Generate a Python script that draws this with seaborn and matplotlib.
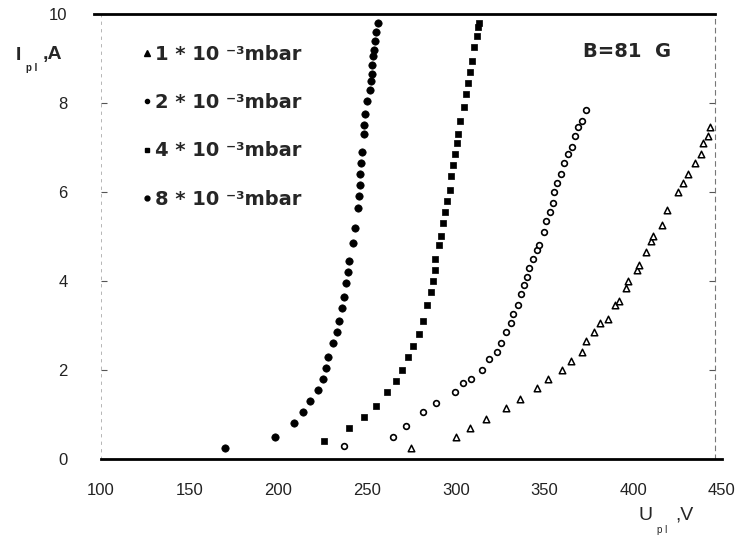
import matplotlib
matplotlib.use("Agg")
import matplotlib.pyplot as plt
from matplotlib.lines import Line2D
import seaborn as sns
import pandas as pd

# Discharge current I_pl (A) versus voltage U_pl (V) at B = 81 G, for four pressures
u_1e3 = [275, 300, 308, 317, 328, 336, 346, 352, 360, 365, 371, 373.5, 378, 381, 386,
         389.5, 392, 396, 397, 402, 403, 407, 410, 411, 416, 419, 425, 428, 431, 435,
         438, 439.5, 442, 443.5]
i_1e3 = [0.25, 0.5, 0.7, 0.9, 1.15, 1.35, 1.6, 1.8, 2.0, 2.2, 2.4, 2.65, 2.85, 3.05, 3.15,
         3.45, 3.55, 3.85, 4.0, 4.25, 4.35, 4.65, 4.9, 5.0, 5.25, 5.6, 6.0, 6.2, 6.4, 6.65,
         6.85, 7.1, 7.25, 7.45]

u_2e3 = [237, 264.5, 272, 281.5, 289, 299.5, 304, 308.5, 314.5, 318.5, 323, 325.5, 328, 331,
         332.5, 335, 336.5, 338.5, 340, 341, 343.5, 345.5, 347, 349.5, 351, 353, 354.5,
         355.5, 357, 359, 361, 363.5, 365.5, 367, 369, 371, 373.5]
i_2e3 = [0.3, 0.5, 0.75, 1.05, 1.25, 1.5, 1.7, 1.8, 2.0, 2.25, 2.4, 2.6, 2.85, 3.05,
         3.25, 3.45, 3.7, 3.9, 4.1, 4.3, 4.5, 4.7, 4.8, 5.1, 5.35, 5.55, 5.75,
         6.0, 6.2, 6.4, 6.65, 6.85, 7.0, 7.25, 7.45, 7.6, 7.85]

u_4e3 = [225.5, 240, 248, 255, 261, 266, 269.5, 273, 276, 279, 281.5, 284, 286, 287, 288,
         288.5, 290.5, 291.5, 293, 294, 295, 296.5, 297.5, 298.5, 299.5, 300.5, 301.5,
         302.5, 304.5, 306, 307, 308, 309, 310, 312, 312.5, 313]
i_4e3 = [0.4, 0.7, 0.95, 1.2, 1.5, 1.75, 2.0, 2.3, 2.55, 2.8, 3.1, 3.45, 3.75, 4.0, 4.25,
         4.5, 4.8, 5.0, 5.3, 5.55, 5.8, 6.05, 6.35, 6.6, 6.85, 7.1, 7.3,
         7.6, 7.9, 8.2, 8.45, 8.7, 8.95, 9.25, 9.5, 9.7, 9.8]

u_8e3 = [170, 198, 209, 214, 218, 222.5, 225, 227, 228, 231, 233, 234, 236, 237, 238, 239,
         240, 242, 243, 245, 245.5, 246, 246, 246.5, 247, 248, 248.5, 249, 250, 251.5, 252,
         252.5, 253, 253.5, 254, 254.5, 255, 256]
i_8e3 = [0.25, 0.5, 0.8, 1.05, 1.3, 1.55, 1.8, 2.05, 2.3, 2.6, 2.85, 3.1, 3.4, 3.65, 3.95,
         4.2, 4.45, 4.85, 5.2, 5.65, 5.9, 6.15, 6.4, 6.65, 6.9, 7.3, 7.5, 7.75, 8.05, 8.3,
         8.5, 8.65, 8.85, 9.05, 9.2, 9.4, 9.6, 9.8]

pressures = ["1 * 10 \u207b\u00b3mbar", "2 * 10 \u207b\u00b3mbar",
             "4 * 10 \u207b\u00b3mbar", "8 * 10 \u207b\u00b3mbar"]
x_ticks = [100, 150, 200, 250, 300, 350, 400, 450]
y_ticks = [0, 2, 4, 6, 8, 10]

df = pd.concat([
    pd.DataFrame({"U": u, "I": i, "p": p})
    for u, i, p in zip([u_1e3, u_2e3, u_4e3, u_8e3],
                       [i_1e3, i_2e3, i_4e3, i_8e3], pressures)
])

sns.set_theme(style="white")
plt.rcParams["font.family"] = ["Liberation Sans", "DejaVu Sans"]

fig = plt.figure(figsize=(7.43, 5.36), dpi=100)
ax = fig.add_axes([0.1359, 0.1437, 0.8358, 0.8302])

marker_styles = {
    pressures[0]: dict(marker="^", s=22, facecolor="white", edgecolor="black", linewidth=1.1),
    pressures[1]: dict(marker="o", s=17, facecolor="white", edgecolor="black", linewidth=1.2),
    pressures[2]: dict(marker="s", s=24, facecolor="black", edgecolor="black", linewidth=0.5),
    pressures[3]: dict(marker="o", s=28, facecolor="black", edgecolor="black", linewidth=0.5),
}
for p in pressures:
    sub = df[df["p"] == p]
    sns.scatterplot(data=sub, x="U", y="I", ax=ax, color="black", label=p,
                    legend=False, zorder=3, **marker_styles[p])

ax.set_xlim(100, 450)
ax.set_ylim(0, 10)
ax.set_xticks(x_ticks)
ax.set_yticks(y_ticks)
ax.set_xticklabels([str(v) for v in x_ticks])
ax.set_yticklabels([str(v) for v in y_ticks])
ax.set_xlabel("")
ax.set_ylabel("")
ax.tick_params(axis="x", length=0, pad=17, labelsize=12, labelcolor="#222222")
ax.tick_params(axis="y", direction="in", length=4, width=0.8, color="#555555",
               left=True, right=True, labelright=False, pad=24,
               labelsize=12, labelcolor="#222222")

for side in ("top", "bottom"):
    ax.spines[side].set_color("black")
    ax.spines[side].set_linewidth(2.0)
ax.spines["top"].set_bounds(96, 446)
ax.spines["left"].set_color("#aaaaaa")
ax.spines["left"].set_linewidth(0.6)
ax.spines["left"].set_linestyle((0, (3, 6)))
ax.spines["right"].set_position(("data", 446))
ax.spines["right"].set_color("#777777")
ax.spines["right"].set_linewidth(0.8)
ax.spines["right"].set_linestyle((0, (4, 4)))

handles = [
    Line2D([], [], marker="^", color="black", linestyle="none", markersize=4),
    Line2D([], [], marker="o", color="black", linestyle="none", markersize=3),
    Line2D([], [], marker="s", color="black", linestyle="none", markersize=3.5),
    Line2D([], [], marker="o", color="black", linestyle="none", markersize=3.5),
]
ax.legend(handles, pressures, loc="upper left", bbox_to_anchor=(0.064, 0.93),
          frameon=False, handletextpad=0.15, handlelength=0.6, labelspacing=1.5,
          borderaxespad=0, borderpad=0,
          prop={"family": ["DejaVu Sans"], "size": 14, "weight": "bold"})

ax.text(371.5, 9.15, "B=81  G", fontsize=14, fontweight="bold",
        family=["DejaVu Sans"], ha="left", va="center")

# axis captions with subscripts
fig.text(18 / 743, 1 - 55 / 536, "I", fontsize=14, fontweight="bold", ha="center", va="center")
fig.text(32 / 743, 1 - 68 / 536, "p l", fontsize=7, fontweight="bold", ha="center", va="center")
fig.text(52 / 743, 1 - 55 / 536, ",A", fontsize=14, fontweight="bold", ha="center", va="center")
fig.text(646 / 743, 1 - 515 / 536, "U", fontsize=14, ha="center", va="center")
fig.text(662 / 743, 1 - 530 / 536, "p l", fontsize=7, ha="center", va="center")
fig.text(684 / 743, 1 - 515 / 536, ",V", fontsize=14, ha="center", va="center")

fig.savefig("out.png", dpi=100, facecolor="white")
